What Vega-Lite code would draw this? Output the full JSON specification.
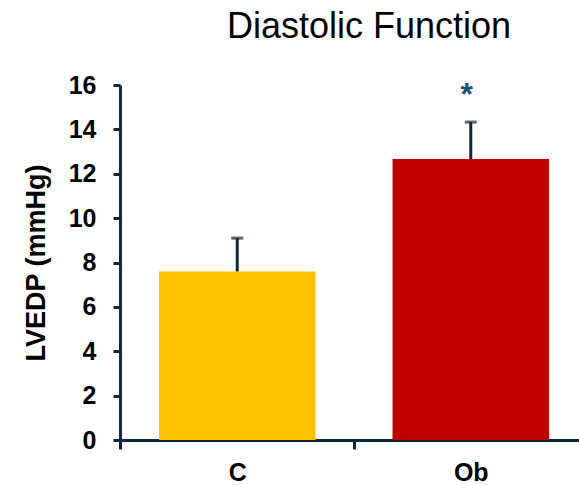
{
  "$schema": "https://vega.github.io/schema/vega-lite/v6.json",
  "autosize": {"type": "none"},
  "padding": {"left": 120, "top": 85, "right": 0, "bottom": 45},
  "width": 468,
  "height": 355,
  "background": "white",
  "title": {
    "text": "Diastolic Function",
    "font": "Liberation Sans",
    "fontSize": 36,
    "fontWeight": "normal",
    "color": "#000000",
    "anchor": "middle",
    "frame": "group",
    "dx": 15,
    "baseline": "alphabetic",
    "offset": -1
  },
  "config": {
    "view": {"stroke": null},
    "font": "Liberation Sans"
  },
  "data": {
    "values": [
      {"group": "C", "value": 7.6, "upper": 9.1, "sig": ""},
      {"group": "Ob", "value": 12.66, "upper": 14.33, "sig": "*"}
    ]
  },
  "encoding": {
    "x": {
      "field": "group",
      "type": "nominal",
      "sort": null,
      "scale": {"paddingInner": 0.33, "paddingOuter": 0.167},
      "axis": {
        "title": null,
        "labelAngle": 0,
        "labelFont": "Liberation Sans",
        "labelFontSize": 25,
        "labelFontWeight": "bold",
        "labelColor": "#000000",
        "labelPadding": 11,
        "tickOffset": -116.75,
        "labelOffset": 116.75,
        "tickSize": 9,
        "tickWidth": 3,
        "tickColor": "#10253F",
        "domainColor": "#10253F",
        "domainWidth": 3
      }
    }
  },
  "layer": [
    {
      "mark": {"type": "bar", "stroke": null},
      "encoding": {
        "y": {
          "field": "value",
          "type": "quantitative",
          "scale": {"domain": [0, 16], "nice": false},
          "axis": {
            "title": "LVEDP (mmHg)",
            "titleFont": "Liberation Sans",
            "titleFontSize": 27,
            "titleFontWeight": "bold",
            "titleColor": "#000000",
            "titlePadding": 18,
            "values": [0, 2, 4, 6, 8, 10, 12, 14, 16],
            "grid": false,
            "labelFont": "Liberation Sans",
            "labelFontSize": 25,
            "labelFontWeight": "bold",
            "labelColor": "#000000",
            "labelPadding": 17,
            "tickSize": 7,
            "tickWidth": 3,
            "tickColor": "#10253F",
            "domainColor": "#10253F",
            "domainWidth": 3
          }
        },
        "color": {
          "field": "group",
          "type": "nominal",
          "scale": {"domain": ["C", "Ob"], "range": ["#FFC000", "#C00000"]},
          "legend": null
        }
      }
    },
    {
      "mark": {"type": "rule", "color": "#10253F", "strokeWidth": 3},
      "encoding": {
        "y": {"field": "value", "type": "quantitative"},
        "y2": {"field": "upper"}
      }
    },
    {
      "mark": {"type": "tick", "color": "#10253F", "thickness": 3, "size": 12},
      "encoding": {
        "y": {"field": "upper", "type": "quantitative"}
      }
    },
    {
      "mark": {"type": "text", "color": "#1F4E79", "font": "Liberation Sans", "fontSize": 32, "fontWeight": "bold", "baseline": "alphabetic", "dx": -4},
      "encoding": {
        "y": {"datum": 15.1, "type": "quantitative"},
        "text": {"field": "sig"}
      }
    }
  ]
}
